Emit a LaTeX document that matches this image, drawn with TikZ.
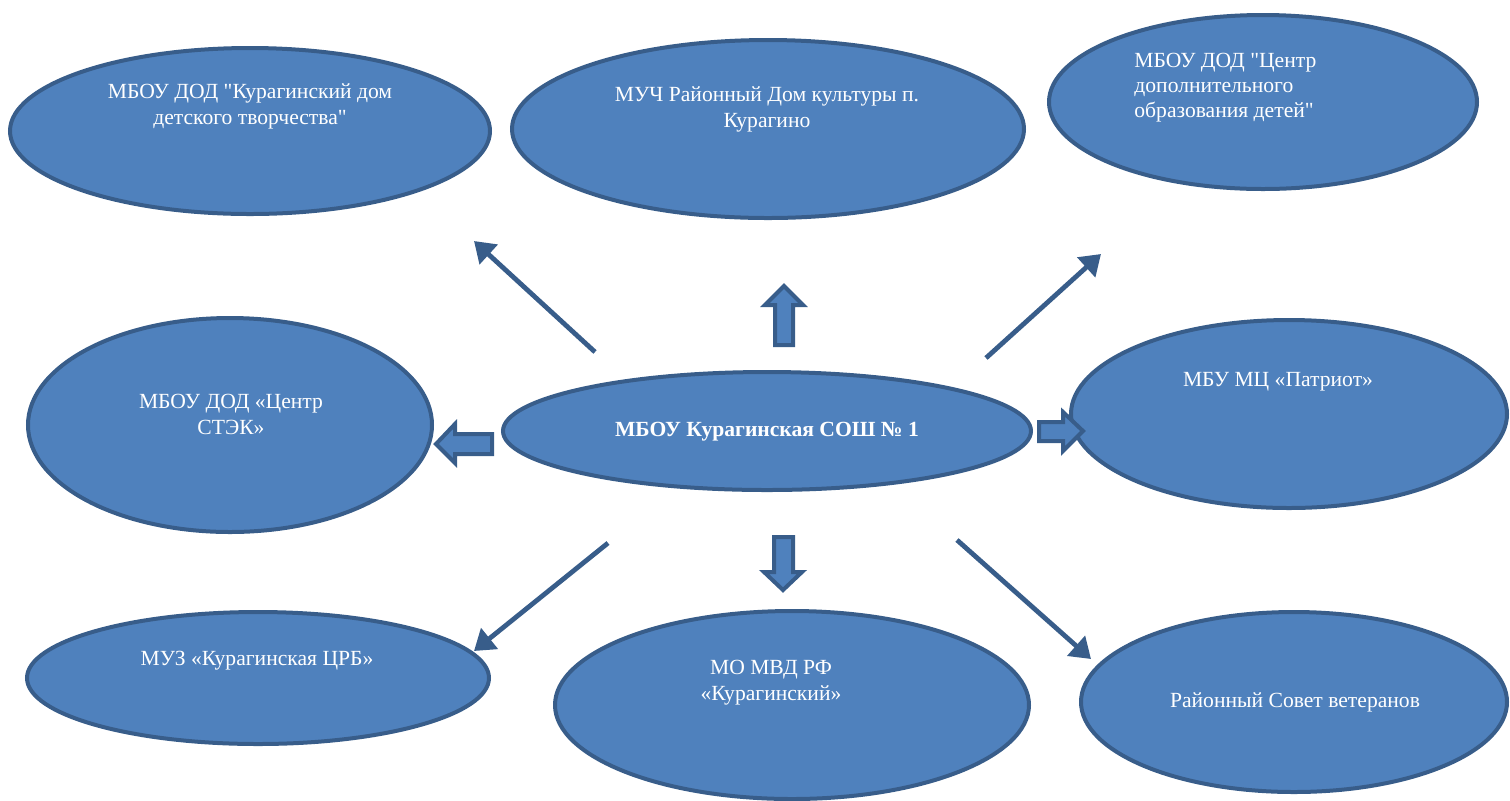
\documentclass[tikz,border=0pt]{standalone}
\usepackage{fontspec}
\setmainfont{Liberation Serif}[Ligatures=TeXOff]
\usetikzlibrary{shapes.geometric,arrows.meta}
\definecolor{efill}{HTML}{4F81BD}
\definecolor{eline}{HTML}{385D8A}
\begin{document}
\begin{tikzpicture}[x=0.5pt,y=-0.5pt,
  ell/.style={ellipse,draw=eline,fill=efill,line width=2pt,inner sep=0pt},
  lbl/.style={text=white,font=\fontsize{10.8pt}{13pt}\selectfont,align=center,inner sep=0pt},
  thinarrow/.style={draw=eline,line width=2.4pt,-{Triangle[length=10pt,width=13pt]}},
  blockarrow/.style={draw=eline,fill=efill,line width=2pt,line join=miter}]
\useasboundingbox (0,0) rectangle (1510,800);
% ellipses (sizes in pt = px/2)
\node[ell,minimum width=240pt,minimum height=83pt] (e1) at (250,131) {};
\node[ell,minimum width=256pt,minimum height=89pt] (e2) at (768,129) {};
\node[ell,minimum width=214pt,minimum height=87pt] (e3) at (1263,102) {};
\node[ell,minimum width=202pt,minimum height=107pt] (e4) at (230,425) {};
\node[ell,minimum width=264pt,minimum height=59pt] (e5) at (767,431) {};
\node[ell,minimum width=218pt,minimum height=94pt] (e6) at (1289,414) {};
\node[ell,minimum width=231pt,minimum height=66pt] (e7) at (258,678) {};
\node[ell,minimum width=237pt,minimum height=94pt] (e8) at (792,705) {};
\node[ell,minimum width=213pt,minimum height=90pt] (e9) at (1294,702) {};
% labels
\node[lbl] (t1) at (250,106) {МБОУ ДОД "Курагинский дом\\детского творчества"};
\node[lbl] (t2) at (767,109) {МУЧ Районный Дом культуры п.\\Курагино};
\node[lbl,anchor=west,align=left,font=\fontsize{10.8pt}{12.5pt}\selectfont] (t3) at (1134,88) {МБОУ ДОД "Центр\\дополнительного\\образования детей"};
\node[lbl] (t4) at (231,414) {МБОУ ДОД «Центр\\СТЭК»};
\node[lbl,font=\fontsize{10.8pt}{13pt}\selectfont\bfseries] (t5) at (767,432) {МБОУ Курагинская СОШ № 1};
\node[lbl] (t6) at (1278,382) {МБУ МЦ «Патриот»};
\node[lbl] (t7) at (257,661) {МУЗ «Курагинская ЦРБ»};
\node[lbl] (t8) at (771,683) {МО МВД РФ\\«Курагинский»};
\node[lbl] (t9) at (1295,702) {Районный Совет ветеранов};
% thin arrows
\coordinate (a1s) at (595,352); \coordinate (a1e) at (474,241);
\coordinate (a2s) at (986,358); \coordinate (a2e) at (1101,254);
\coordinate (a3s) at (608,543); \coordinate (a3e) at (474,651);
\coordinate (a4s) at (957,540); \coordinate (a4e) at (1091,659);
\draw[thinarrow] (a1s) -- (a1e);
\draw[thinarrow] (a2s) -- (a2e);
\draw[thinarrow] (a3s) -- (a3e);
\draw[thinarrow] (a4s) -- (a4e);
% block arrows
\draw[blockarrow] (775,345) -- (775,305) -- (765,305) -- (784,286) -- (803,305) -- (793,305) -- (793,345) -- cycle;
\draw[blockarrow] (774,537) -- (793,537) -- (793,572) -- (802,572) -- (783,590) -- (764,572) -- (774,572) -- cycle;
\draw[blockarrow] (492,434) -- (455,434) -- (455,424) -- (436,444) -- (455,463) -- (455,454) -- (492,454) -- cycle;
\draw[blockarrow] (1039,422) -- (1063,422) -- (1063,412) -- (1083,431) -- (1063,451) -- (1063,441) -- (1039,441) -- cycle;
\end{tikzpicture}
\end{document}
